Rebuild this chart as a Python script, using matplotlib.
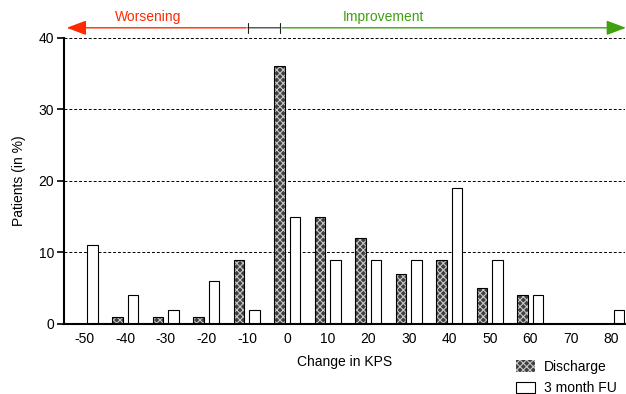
import numpy as np
import matplotlib
matplotlib.use("Agg")
import matplotlib.pyplot as plt
from matplotlib.patches import Patch

plt.rcParams['font.family'] = ['Liberation Sans', 'DejaVu Sans']
plt.rcParams['font.size'] = 10
plt.rcParams['axes.unicode_minus'] = False
plt.rcParams['hatch.color'] = '#c8c8c8'
plt.rcParams['hatch.linewidth'] = 0.8

# data
change = [-50, -40, -30, -20, -10, 0, 10, 20, 30, 40, 50, 60, 70, 80]
discharge = [0, 1, 1, 1, 9, 36, 15, 12, 7, 9, 5, 4, 0, 0]
followup = [11, 4, 2, 6, 2, 15, 9, 9, 9, 19, 9, 4, 0, 2]

x = np.array(change, dtype=float)
# zero bars are not drawn in the original
d = np.where(np.array(discharge) == 0, np.nan, discharge)
f = np.where(np.array(followup) == 0, np.nan, followup)
off = 1.9
w = 2.6

fig = plt.figure(figsize=(6.26, 3.94), dpi=100)
ax = fig.add_axes([0.102, 0.178, 0.896, 0.726])

# discharge: dark fill with light crosshatch, black outline on top
ax.bar(x - off, d, width=w, color='#404040', hatch='xxxxx',
       edgecolor='#c8c8c8', linewidth=0, zorder=3)
ax.bar(x - off, d, width=w, fill=False, edgecolor='black',
       linewidth=0.8, zorder=4)
ax.bar(x + off, f, width=w, color='white', edgecolor='black',
       linewidth=0.8, zorder=3)

ax.set_xlim(-55.2, 83.3)
ax.set_ylim(0, 40)
ax.set_xticks(change)
ax.set_yticks([0, 10, 20, 30, 40])
ax.tick_params(axis='x', length=0, pad=6)
ax.tick_params(axis='y', length=5, width=1.2, pad=2)
for s in ['top', 'right']:
    ax.spines[s].set_visible(False)
for s in ['left', 'bottom']:
    ax.spines[s].set_linewidth(1.5)
    ax.spines[s].set_zorder(6)
ax.yaxis.grid(True, linestyle=(0, (3, 2)), color='black', linewidth=0.7)
ax.set_axisbelow(True)

ax.set_xlabel("Change in KPS", labelpad=6)
ax.set_ylabel("Patients (in %)", labelpad=9)

# direction arrows on top
ya = 41.4
head = '-|>,head_length=1.2,head_width=0.45'
ax.annotate('', xy=(-54.5, ya), xytext=(-10.2, ya), annotation_clip=False,
            arrowprops=dict(arrowstyle=head, color='#ff2a00', lw=1,
                            shrinkA=0, shrinkB=0))
ax.annotate('', xy=(83.6, ya), xytext=(-1.3, ya), annotation_clip=False,
            arrowprops=dict(arrowstyle=head, color='#3fa010', lw=1,
                            shrinkA=0, shrinkB=0))
ax.annotate('', xy=(-9.8, ya), xytext=(-1.9, ya), annotation_clip=False,
            arrowprops=dict(arrowstyle='|-|,widthA=0.35,widthB=0.35',
                            color='#222222', lw=0.8, shrinkA=0, shrinkB=0))
ax.text(-34.5, 42.9, "Worsening", color='#ff2a00', ha='center', va='center',
        clip_on=False)
ax.text(23.6, 42.9, "Improvement", color='#3fa010', ha='center', va='center',
        clip_on=False)

handles = [Patch(facecolor='#404040', hatch='xxxxx', edgecolor='#c8c8c8',
                 linewidth=0),
           Patch(facecolor='white', edgecolor='black', linewidth=0.8)]
fig.legend(handles, ["Discharge", "3 month FU"], loc='lower right',
           bbox_to_anchor=(1.005, -0.035), frameon=False, handlelength=1.4,
           handleheight=0.9, handletextpad=0.6, labelspacing=0.55)

fig.savefig("out.png", dpi=100)
